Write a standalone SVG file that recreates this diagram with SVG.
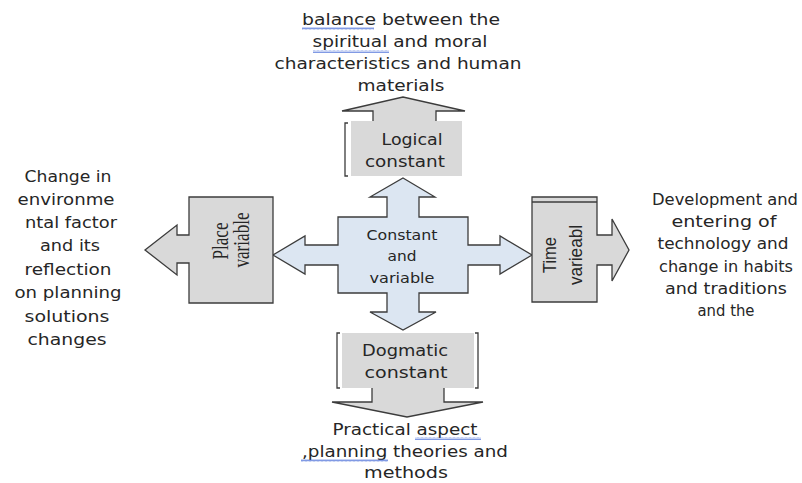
<svg xmlns="http://www.w3.org/2000/svg" width="802" height="483" viewBox="0 0 802 483">
<style>
.t{font-family:"DejaVu Sans","Liberation Sans",sans-serif;fill:#262626;text-anchor:middle}
.s{stroke:#3c3c3c;stroke-width:1.3;stroke-linejoin:miter}
.g{fill:#d9d9d9}
.b{fill:#dce6f2}
.br{fill:none;stroke:#3c3c3c;stroke-width:1.3}
.sq{fill:url(#sq)}
.sf{font-family:"Liberation Serif","Times New Roman",serif;fill:#262626;text-anchor:middle}
.ss{font-family:"Liberation Sans",Arial,sans-serif;fill:#262626;text-anchor:middle}
</style>
<defs>
<pattern id="sq" width="4" height="3" patternUnits="userSpaceOnUse">
<path d="M0,2.5 L1,0.5 L2,2.5 L3,0.5 L4,2.5" fill="none" stroke="#4a6fd8" stroke-width="0.7"/>
</pattern>
</defs>
<rect width="802" height="483" fill="#ffffff"/>

<g id="connectors">
  <path class="g" d="M373,121 L373,111 L342,111 L403,97 L465,111 L436,111 L436,121 Z"/>
  <path class="br" d="M373,121 L373,111 L342,111 L403,97 L465,111 L436,111 L436,121"/>
  <path class="g" d="M372,388 L372,402 L332,402 L407,417 L483,402 L444,402 L444,388 Z"/>
  <path class="br" d="M372,388 L372,402 L332,402 L407,417 L483,402 L444,402 L444,388"/>
</g>

<g id="node-top-text">
  <text class="t" font-size="15.5" x="401" y="25" textLength="198" lengthAdjust="spacingAndGlyphs">balance between the</text>
  <text class="t" font-size="15.5" x="400" y="47" textLength="175" lengthAdjust="spacingAndGlyphs">spiritual and moral</text>
  <text class="t" font-size="15.5" x="398" y="69" textLength="247" lengthAdjust="spacingAndGlyphs">characteristics and human</text>
  <text class="t" font-size="15.5" x="401" y="91" textLength="87" lengthAdjust="spacingAndGlyphs">materials</text>
  <rect class="sq" x="302" y="27" width="72" height="3"/>
  <rect class="sq" x="313" y="50" width="76" height="3"/>
</g>

<g id="node-logical">
  <rect class="g" x="351" y="121" width="111" height="55"/>
  <path class="br" d="M348,123 L345,123 L345,176 L348,176"/>
  <text class="t" font-size="15.5" x="412" y="145" textLength="61" lengthAdjust="spacingAndGlyphs">Logical</text>
  <text class="t" font-size="15.5" x="405" y="167" textLength="80" lengthAdjust="spacingAndGlyphs">constant</text>
</g>

<g id="node-center">
  <path class="b s" d="M403,178 L435,197 L419,197 L419,217 L468,217 L468,245 L500,245 L500,236 L532,255 L500,274 L500,265 L468,265 L468,293 L419,293 L419,312 L436,312 L403,330 L370,312 L387,312 L387,293 L338,293 L338,265 L305,265 L305,274 L273,255 L305,236 L305,245 L338,245 L338,217 L387,217 L387,197 L370,197 Z"/>
  <text class="t" font-size="14" x="402" y="240" textLength="71" lengthAdjust="spacingAndGlyphs">Constant</text>
  <text class="t" font-size="14" x="402" y="261" textLength="29" lengthAdjust="spacingAndGlyphs">and</text>
  <text class="t" font-size="14" x="402" y="283" textLength="65" lengthAdjust="spacingAndGlyphs">variable</text>
</g>

<g id="node-place">
  <path class="g s" d="M189,197 L273,197 L273,303 L189,303 L189,263 L177,263 L177,275 L145,250 L177,225 L177,235 L189,235 Z"/>
  <text class="sf" font-size="17" transform="translate(228,241) scale(1.4,1) rotate(-90)" textLength="37" lengthAdjust="spacingAndGlyphs">Place</text>
  <text class="sf" font-size="17" transform="translate(249,240) scale(1.4,1) rotate(-90)" textLength="55" lengthAdjust="spacingAndGlyphs">variable</text>
</g>

<g id="node-time">
  <path class="g s" d="M532,197 L597,197 L597,235 L612,235 L612,219 L629,250 L612,281 L612,265 L597,265 L597,302 L532,302 Z"/>
  <line class="br" x1="532" y1="202" x2="597" y2="202"/>
  <text class="ss" font-size="17" transform="translate(556,255) scale(1.1,1) rotate(-90)" textLength="36" lengthAdjust="spacingAndGlyphs">Time</text>
  <text class="ss" font-size="17" transform="translate(582,255) scale(1.1,1) rotate(-90)" textLength="60" lengthAdjust="spacingAndGlyphs">varieabl</text>
</g>

<g id="node-dogmatic">
  <rect class="g" x="342" y="333" width="132" height="55"/>
  <path class="br" d="M340,333 L337,333 L337,388 L340,388"/>
  <path class="br" d="M475,333 L478,333 L478,388 L475,388"/>
  <text class="t" font-size="15.5" x="405" y="356" textLength="86" lengthAdjust="spacingAndGlyphs">Dogmatic</text>
  <text class="t" font-size="15.5" x="406" y="378" textLength="83" lengthAdjust="spacingAndGlyphs">constant</text>
</g>

<g id="node-bottom-text">
  <text class="t" font-size="15.5" x="405" y="435" textLength="145" lengthAdjust="spacingAndGlyphs">Practical aspect</text>
  <text class="t" font-size="15.5" x="405" y="457" textLength="206" lengthAdjust="spacingAndGlyphs">,planning theories and</text>
  <text class="t" font-size="15.5" x="406" y="478" textLength="84" lengthAdjust="spacingAndGlyphs">methods</text>
  <rect class="sq" x="415" y="437" width="66" height="3"/>
  <rect class="sq" x="301" y="459" width="87" height="3"/>
</g>

<g id="node-left-text">
  <text class="t" font-size="16" x="68" y="182" textLength="87" lengthAdjust="spacingAndGlyphs">Change in</text>
  <text class="t" font-size="16" x="66" y="205" textLength="97" lengthAdjust="spacingAndGlyphs">environme</text>
  <text class="t" font-size="16" x="71" y="228" textLength="92" lengthAdjust="spacingAndGlyphs">ntal factor</text>
  <text class="t" font-size="16" x="70" y="251" textLength="60" lengthAdjust="spacingAndGlyphs">and its</text>
  <text class="t" font-size="16" x="68" y="275" textLength="87" lengthAdjust="spacingAndGlyphs">reflection</text>
  <text class="t" font-size="16" x="68" y="298" textLength="107" lengthAdjust="spacingAndGlyphs">on planning</text>
  <text class="t" font-size="16" x="67" y="322" textLength="85" lengthAdjust="spacingAndGlyphs">solutions</text>
  <text class="t" font-size="16" x="67" y="345" textLength="79" lengthAdjust="spacingAndGlyphs">changes</text>
</g>

<g id="node-right-text">
  <text class="t" font-size="15" x="725" y="205" textLength="146" lengthAdjust="spacingAndGlyphs">Development and</text>
  <text class="t" font-size="15" x="724" y="227" textLength="105" lengthAdjust="spacingAndGlyphs">entering of</text>
  <text class="t" font-size="15" x="723" y="249" textLength="131" lengthAdjust="spacingAndGlyphs">technology and</text>
  <text class="t" font-size="15" x="726" y="272" textLength="134" lengthAdjust="spacingAndGlyphs">change in habits</text>
  <text class="t" font-size="15" x="726" y="294" textLength="122" lengthAdjust="spacingAndGlyphs">and traditions</text>
  <text class="t" font-size="15" x="726" y="316" textLength="57" lengthAdjust="spacingAndGlyphs">and the</text>
</g>
</svg>
